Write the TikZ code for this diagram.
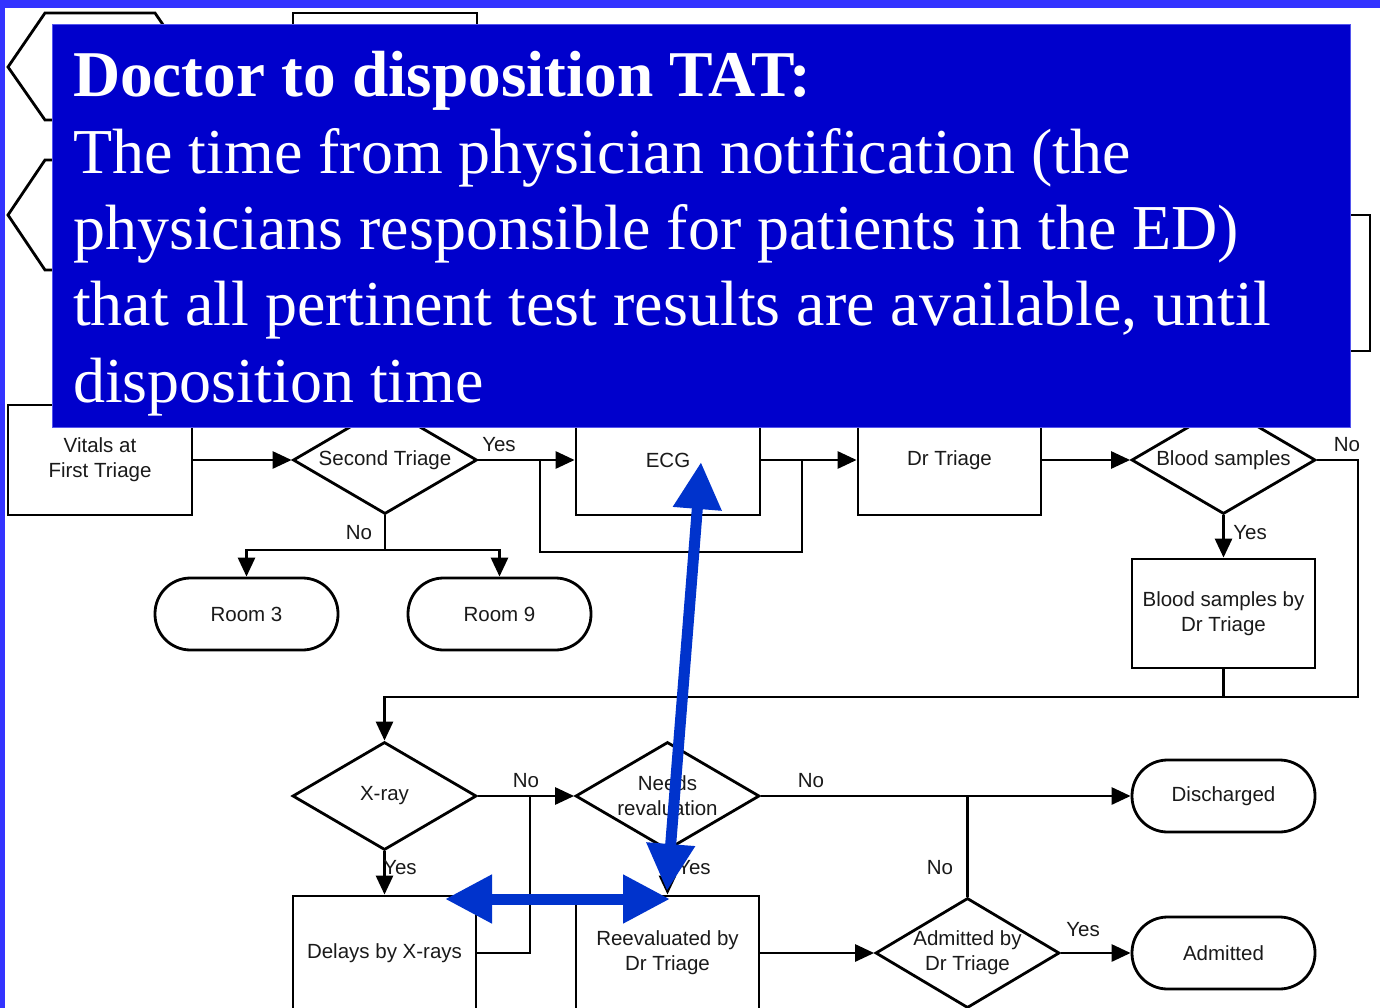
\documentclass[tikz,border=0pt]{standalone}
\usepackage{fontspec}
\setmainfont{Liberation Serif}
\newfontfamily\flowfont{Liberation Sans}
\usetikzlibrary{arrows.meta,shapes.geometric}
\definecolor{slideblue}{HTML}{3333FF}
\definecolor{boxblue}{HTML}{0000CC}
\definecolor{boxedge}{HTML}{5555EE}
\definecolor{markblue}{HTML}{0033CC}
\definecolor{inkgray}{HTML}{1A1A1A}
\begin{document}
\begin{tikzpicture}[x=1pt,y=-1pt,
  flow/.style={line width=2.8pt},
  arr/.style={flow,-{Triangle[length=19pt,width=17pt]}},
  ftext/.style={font=\flowfont\fontsize{20.5}{25}\selectfont,text=inkgray},
  proc/.style={draw,line width=2.8pt,minimum width=184pt,minimum height=110pt,
    inner sep=0pt,align=center,ftext},
  dec/.style={draw,diamond,aspect=1.67,line width=2.8pt,minimum width=184pt,
    minimum height=108pt,inner sep=0pt,align=center,ftext},
  term/.style={draw,rectangle,rounded corners=35.5pt,line width=2.8pt,
    minimum width=183pt,minimum height=72pt,inner sep=0pt,ftext},
  lbl/.style={inner sep=0pt,ftext},
  bluearrow/.style={draw=markblue,line width=11pt,
    {Triangle[length=47pt,width=46pt]}-{Triangle[length=47pt,width=46pt]}}]

\useasboundingbox (0,0) rectangle (1380,1008);
\clip (0,0) rectangle (1380,1008);
\fill[white] (0,0) rectangle (1380,1008);

% upper part of the chart (mostly covered by the text panel)
\draw[flow] (8,67) -- (45,13) -- (155,13) -- (192,67) -- (155,120) -- (45,120) -- cycle;
\draw[flow] (8,215) -- (45,160) -- (155,160) -- (192,215) -- (155,270) -- (45,270) -- cycle;
\draw[flow] (293,13) rectangle (477,123);
\draw[flow] (1186,215) rectangle (1370,351);

% first row
\node[proc] (vitals) at (100,460) {Vitals at\\First Triage};
\node[dec]  (second) at (385,460) {Second Triage};
\node[proc] (ecg)    at (668,460) {ECG};
\node[proc,minimum width=183pt] (drt) at (949.5,460) {Dr Triage};
\node[dec]  (blood)  at (1223.5,460) {Blood samples};
\node[proc,minimum width=183pt,minimum height=109pt] (bsdr) at (1223.5,613.5) {Blood samples by\\Dr Triage};
\node[term] (room3) at (246.5,614) {Room 3};
\node[term] (room9) at (499.5,614) {Room 9};

% second row
\node[dec] (xray)  at (384.5,796) {X-ray};
\node[dec] (needs) at (667.5,796) {Needs\\revaluation};
\node[term] (discharged) at (1223.5,796) {Discharged};
\node[proc,minimum width=183pt,minimum height=114pt] (delays) at (384.5,953) {Delays by X-rays};
\node[proc,minimum width=183pt,minimum height=114pt] (reeval) at (667.5,953) {Reevaluated by\\Dr Triage};
\node[dec,minimum height=110pt] (admit) at (967.5,953) {Admitted by\\Dr Triage};
\node[term] (admitted) at (1223.5,953) {Admitted};

% junction points
\coordinate (j1) at (540,460);
\coordinate (b1) at (540,552);
\coordinate (b2) at (802,552);
\coordinate (j2) at (802,460);
\coordinate (r1) at (1358,460);
\coordinate (r2) at (1358,697);
\coordinate (r3) at (384.5,697);
\coordinate (n1) at (385,550);
\coordinate (x1) at (530,796);
\coordinate (d1) at (967.5,796);

% connectors
\draw[arr] (vitals.east) -- (second.west);
\draw[arr] (second.east) -- (ecg.west);
\draw[flow] (j1) -- (b1) -- (b2) -- (j2);
\draw[arr] (ecg.east) -- (drt.west);
\draw[arr] (drt.east) -- (blood.west);
\draw[arr] (blood.east) -- (r1) -- (r2) -- (r3) -- (xray.north);
\draw[arr] (blood.south) -- (bsdr.north);
\draw[flow] (bsdr.south) -- (bsdr.south |- r2);
\draw[flow] (second.south) -- (n1);
\draw[arr] (n1) -| (room3.north);
\draw[arr] (n1) -| (room9.north);
\draw[arr] (xray.east) -- (needs.west);
\draw[flow] (x1) |- (delays.east);
\draw[arr] (xray.south) -- (delays.north);
\draw[arr] (needs.east) -- (discharged.west);
\draw[flow] (d1) -- (admit.north);
\draw[arr] (needs.south) -- (reeval.north);
\draw[arr] (reeval.east) -- (admit.west);
\draw[arr] (admit.east) -- (admitted.west);

% branch labels
\node[lbl] at (499,445) {Yes};
\node[lbl] at (1347,445) {No};
\node[lbl] at (1250,533) {Yes};
\node[lbl] at (359,533) {No};
\node[lbl] at (526,781) {No};
\node[lbl] at (400,868) {Yes};
\node[lbl] at (811,781) {No};
\node[lbl] at (694,868) {Yes};
\node[lbl] at (940,868) {No};
\node[lbl] at (1083,930) {Yes};

% slide frame
\fill[slideblue] (0,0) rectangle (1380,8);
\fill[slideblue] (0,0) rectangle (5,1008);

% definition panel
\node (panel) [anchor=north west,fill=boxblue,draw=boxedge,line width=1pt,
  minimum width=1298pt,minimum height=403pt,inner sep=0pt] at (52,24) {};
\node (defn) [anchor=base west,inner sep=0pt,text=white,align=left,
  font=\fontsize{64}{76.3}\selectfont] at (73,402)
  {{\fontsize{65.3}{76.3}\selectfont\bfseries Doctor to disposition TAT:}\\
   The time from physician notification (the\\
   physicians responsible for patients in the ED)\\
   that all pertinent test results are available, until\\
   disposition time};

% highlight arrows
\coordinate (ua) at (701,462);
\coordinate (ub) at (667,891);
\coordinate (la) at (445,899);
\coordinate (lb) at (670,899);
\draw[bluearrow] (ua) -- (ub);
\draw[bluearrow] (la) -- (lb);
\end{tikzpicture}
\end{document}
